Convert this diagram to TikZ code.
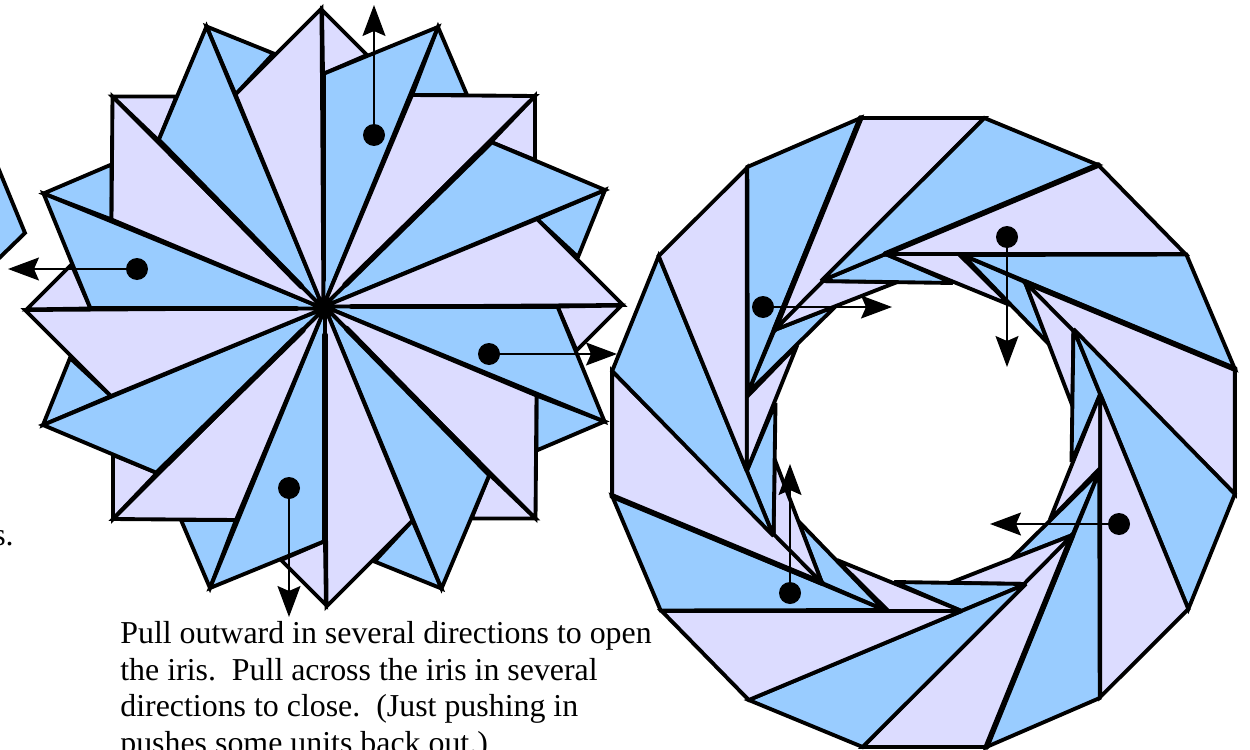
\documentclass[tikz,border=0pt]{standalone}
\usepackage{fontspec}
\setmainfont{Liberation Serif}
\usetikzlibrary{arrows.meta}
\definecolor{UnitBlue}{HTML}{99CCFF}
\definecolor{UnitLilac}{HTML}{DCDCFF}

\begin{document}
\begin{tikzpicture}[x=.02cm,y=-.02cm,
    blue/.style={draw=black,fill=UnitBlue,line width=2.2pt,line join=miter,miter limit=3},
    lilac/.style={draw=black,fill=UnitLilac,line width=2.2pt,line join=miter,miter limit=3},
    fold/.style={draw=black,line width=3.2pt,line cap=round},
    dot/.style={circle,fill=black,minimum size=.44cm,inner sep=0pt},
    pull/.style={-{Stealth[length=.62cm,width=.46cm,inset=.1cm]},line width=.9pt},
    note/.style={font=\fontsize{18.15}{20.9}\selectfont,align=left,inner sep=0pt}]
    \useasboundingbox (0,0) rectangle (1250,750);
    \clip (0,0) rectangle (1250,750);
    % closed iris, units that lie underneath
    \foreach \ang in {0,-90,-180,-270} {
      \begin{scope}[rotate around={\ang:(324,307.5)}]
        \draw[lilac] (322,10)--(367,55)--(323,74)--cycle;
        \draw[blue] (438,27)--(467,95)--(412,95)--cycle;
        \draw[lilac] (535,96)--(535,160)--(491,142)--cycle;
        \draw[blue] (605,190)--(578,257)--(537,219)--cycle;
      \end{scope}
    }
    % closed iris, units on top
    \foreach \ang in {0,-90,-180,-270} {
      \begin{scope}[rotate around={\ang:(324,307.5)}]
        \draw[blue] (323,74)--(438,27)--(323,307)--cycle;
        \draw[lilac] (535,96)--(412,95)--(323,307)--cycle;
        \draw[blue] (605,190)--(491,142)--(323,307)--cycle;
        \draw[lilac] (623,305)--(537,219)--(323,307)--cycle;
        \draw[fold] (345,285)--(491,142);
        \draw[fold] (323,280)--(323,74);
      \end{scope}
    }
    \begin{scope}[shift={(923.5,432.5)},xscale=.99,shift={(-923.5,-432.5)}]
      % open iris, slivers near the hole
      \foreach \ang in {0,-90,-180,-270} {
        \begin{scope}[rotate around={\ang:(923.5,432.5)}]
          \draw[blue] (746,393)--(773,330)--(835,306)--cycle;
          \draw[lilac] (773,330)--(820,281)--(897,282)--cycle;
          \draw[blue] (820,281)--(885,254)--(953,283)--cycle;
          \draw[lilac] (885,254)--(959,254)--(1011,305)--cycle;
        \end{scope}
      }
      % open iris, rim
      \foreach \ang in {0,-90,-180,-270} {
        \begin{scope}[rotate around={\ang:(923.5,432.5)}]
          \draw[blue] (745.5,167)--(860,118)--(746,393)--cycle;
          \draw[lilac] (860,118)--(985,118)--(773,330)--cycle;
          \draw[blue] (985,118)--(1100,165)--(820,281)--cycle;
          \draw[lilac] (1100,165)--(1188,254)--(885,254)--cycle;
          \draw[fold] (860,118)--(773,330);
        \end{scope}
      }
      \draw[fold] (1100,165)--(885,254);
    \end{scope}
    % piece of the neighbouring figure
    \draw[blue] (-10,148)--(25,233)--(-10,267)--cycle;
    \node[note,anchor=base east] (cut) at (14,545) {s.};
    \node[note,anchor=north west] (text) at (120,621)
      {Pull outward in several directions to open\\
       the iris.~~Pull across the iris in several\\
       directions to close.~~(Just pushing in\\
       pushes some units back out.)};
    % dots and arrows
    \node[dot] (upA) at (374,135) {};
    \node[dot] (leftA) at (137,269) {};
    \node[dot] (rightA) at (489,354) {};
    \node[dot] (downA) at (289,488) {};
    \node[dot] (rightB) at (763,307) {};
    \node[dot] (downB) at (1007,237) {};
    \node[dot] (leftB) at (1119,524) {};
    \node[dot] (upB) at (790,593) {};
    \coordinate (upAend) at (374,5);
    \coordinate (leftAend) at (8,269);
    \coordinate (rightAend) at (617,354);
    \coordinate (downAend) at (289,617);
    \coordinate (rightBend) at (892,307);
    \coordinate (downBend) at (1007,367);
    \coordinate (leftBend) at (990,524);
    \coordinate (upBend) at (790,464);
    \foreach \from in {upA,leftA,rightA,downA,rightB,downB,leftB,upB}
      \draw[pull] (\from) -- (\from end);
\end{tikzpicture}
\end{document}
